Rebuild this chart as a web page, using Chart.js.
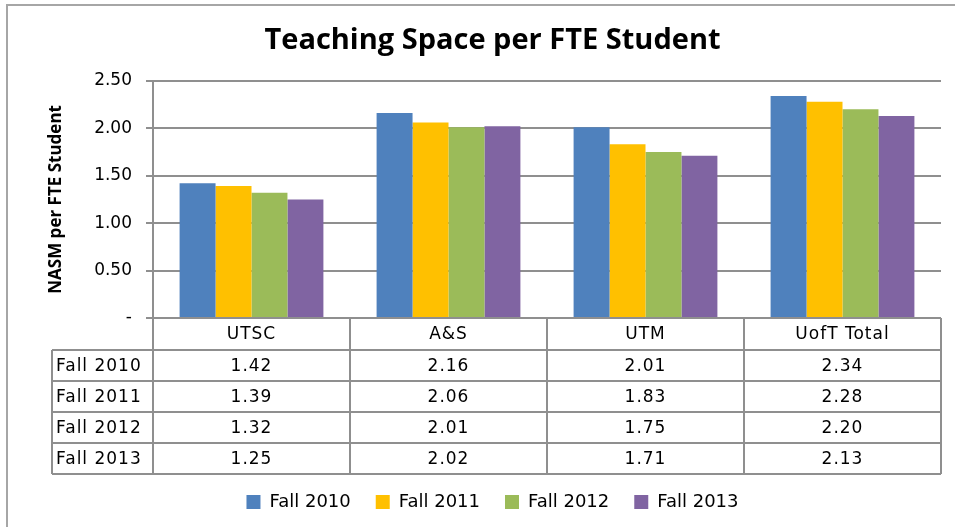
<!DOCTYPE html>
<html>
<head>
<meta charset="utf-8">
<script src="https://cdn.jsdelivr.net/npm/chart.js@4.4.1/dist/chart.umd.min.js"></script>
<style>
  html, body { margin: 0; padding: 0; background: #fff; }
  #wrap { width: 955px; height: 527px; }
</style>
</head>
<body>
<div id="wrap"><canvas id="myChart" width="955" height="527"></canvas></div>
<script>
// Data
const campuses = ['UTSC', 'A&S', 'UTM', 'UofT Total']
const years = ['Fall 2010', 'Fall 2011', 'Fall 2012', 'Fall 2013']
const fall2010 = [1.42, 2.16, 2.01, 2.34]
const fall2011 = [1.39, 2.06, 1.83, 2.28]
const fall2012 = [1.32, 2.01, 1.75, 2.20]
const fall2013 = [1.25, 2.02, 1.71, 2.13]
const colors = ['#4F81BD', '#FFC000', '#9BBB59', '#8064A2']

const series = [fall2010, fall2011, fall2012, fall2013]
const gridColor = '#8f8f8f'
const tableFont = '17px "DejaVu Sans"'

// border round the whole chart, top and left only like the original
const frame = {
  id: 'frame',
  beforeDraw(chart) {
    const c = chart.ctx
    c.save()
    c.strokeStyle = '#a6a6a6'
    c.lineWidth = 2
    c.beginPath()
    c.moveTo(7, 527)
    c.lineTo(7, 5)
    c.lineTo(955, 5)
    c.stroke()
    c.restore()
  }
}

// data table under the plot, drawn from the same arrays
const dataTable = {
  id: 'dataTable',
  afterDraw(chart) {
    const c = chart.ctx
    const x = chart.scales.x
    const area = chart.chartArea
    const top = area.bottom
    const headH = 32
    const rowH = 31
    const labelLeft = 52
    const colW = (area.right - area.left) / campuses.length
    const bottom = top + headH + rowH * years.length

    c.save()
    c.strokeStyle = gridColor
    c.lineWidth = 2
    c.beginPath()
    // vertical lines
    for (let i = 0; i <= campuses.length; i++) {
      const px = area.left + i * colW
      c.moveTo(px, top)
      c.lineTo(px, bottom)
    }
    c.moveTo(labelLeft, top + headH)
    c.lineTo(labelLeft, bottom)
    // horizontal lines
    for (let r = 0; r <= years.length; r++) {
      const py = top + headH + r * rowH
      c.moveTo(labelLeft, py)
      c.lineTo(area.right, py)
    }
    c.stroke()

    c.fillStyle = '#000'
    c.font = tableFont
    c.letterSpacing = '1px'
    c.textBaseline = 'middle'
    c.textAlign = 'center'
    campuses.forEach((name, i) => {
      c.fillText(name, x.getPixelForTick(i), top + headH / 2 + 1)
    })
    years.forEach((yr, r) => {
      const cy = top + headH + r * rowH + rowH / 2 + 1
      c.textAlign = 'left'
      c.fillText(yr, labelLeft + 4, cy)
      c.textAlign = 'center'
      series[r].forEach((v, i) => {
        c.fillText(v.toFixed(2), x.getPixelForTick(i), cy)
      })
    })
    c.restore()
  }
}

const ctx = document.getElementById('myChart')
const myChart = new Chart(ctx, {
  type: 'bar',
  data: {
    labels: campuses,
    datasets: years.map((yr, i) => ({
      label: yr,
      data: series[i],
      backgroundColor: colors[i],
      borderWidth: 0,
      categoryPercentage: 0.73,
      barPercentage: 1
    }))
  },
  options: {
    responsive: false,
    animation: false,
    layout: { padding: { left: 44, right: 14, top: 0, bottom: 6 } },
    plugins: {
      title: {
        display: true,
        text: 'Teaching Space per FTE Student',
        color: '#000',
        font: { family: '"Open Sans"', size: 29, weight: 'bold' },
        padding: { top: 23, bottom: 23 }
      },
      legend: {
        position: 'bottom',
        labels: {
          color: '#000',
          font: { family: '"DejaVu Sans"', size: 18 },
          boxWidth: 14,
          boxHeight: 14,
          padding: 25
        }
      },
      tooltip: { enabled: false }
    },
    scales: {
      x: {
        ticks: { display: false },
        grid: { display: false },
        border: { display: false },
        // room for the data table; the legend sits right under it
        afterFit: (scale) => { scale.height = 150 }
      },
      y: {
        min: 0,
        max: 2.5,
        afterFit: (scale) => { scale.width = 109 },
        ticks: {
          stepSize: 0.5,
          color: '#000',
          padding: 14,
          font: { family: '"DejaVu Sans"', size: 17 },
          callback: (v) => v === 0 ? '-' : v.toFixed(2)
        },
        grid: { color: gridColor, lineWidth: 2, tickLength: 7 },
        border: { color: gridColor, width: 2 },
        title: {
          display: true,
          text: 'NASM per FTE Student',
          color: '#000',
          font: { family: '"Open Sans"', size: 17, weight: 'bold' },
          padding: { top: 2, bottom: 0 }
        }
      }
    }
  },
  plugins: [frame, dataTable]
})
</script>
</body>
</html>
